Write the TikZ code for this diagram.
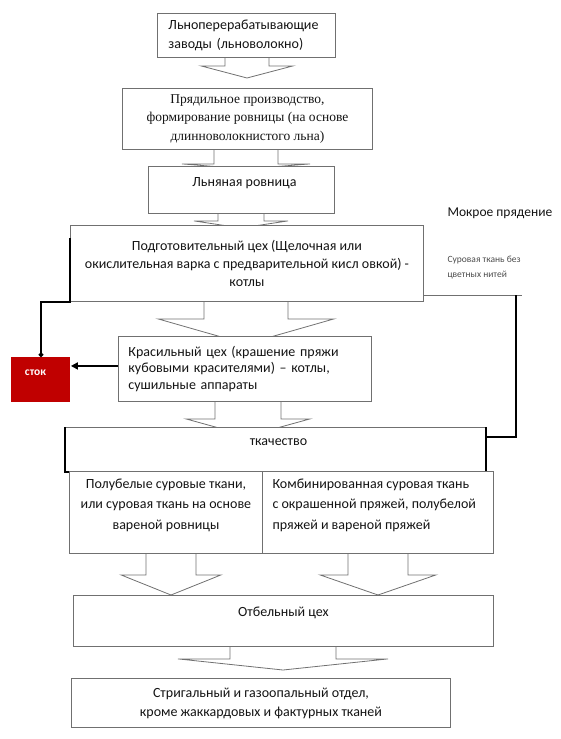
\documentclass[tikz,border=0pt]{standalone}
\usepackage{fontspec}
\setmainfont{Carlito}
\newfontfamily\serifru{Liberation Serif}
\usetikzlibrary{positioning,calc,arrows.meta,backgrounds}

\definecolor{boxgray}{HTML}{707070}
\definecolor{txtgray}{HTML}{141414}
\definecolor{stokred}{HTML}{C00000}

\tikzset{
  box/.style={draw=boxgray, line width=0.9pt, fill=white, anchor=north west, inner sep=0pt},
  txt/.style={font=\fontsize{14}{19}\selectfont, text=txtgray, align=center},
  flow/.style={draw=boxgray, line width=0.8pt},
  link/.style={line width=1.8pt, black},
}

% hollow block arrow: src, dst, x centre, stem length, stem half width, head half width, tip shift
\newcommand{\flowarrow}[7]{%
  \draw[flow] ($(#1.south -| #3,0)+(-#5,0)$) -- ++(0,#4) -- ++(#5-#6,0)
    -- ($(#2.north -| #3,0)+(0,#7)$) -- ($(#1.south -| #3,0)+(#6,#4)$)
    -- ++(#5-#6,0) -- ++(0,-#4);}

\begin{document}
\begin{tikzpicture}[x=1pt,y=-1pt]
\useasboundingbox (0,0) rectangle (561,739);

% boxes
\node[box, txt, minimum width=178pt, minimum height=44pt, text width=156pt, align=left] (plant) at (157,13)
  {Льноперерабатывающие\\заводы (льноволокно)};
\node[box, txt, minimum width=250pt, minimum height=61pt, font=\serifru\fontsize{13.5}{18.5}\selectfont] (spin) at (122,88)
  {Прядильное производство,\\формирование ровницы (на основе\\длинноволокнистого льна)};
\node[box, minimum width=186pt, minimum height=47pt] (roving) at (148,166) {};
\node[txt] (rovingtxt) at ($(roving.north)+(3,17)$) {Льняная ровница};
\node[box, txt, minimum width=353pt, minimum height=76pt, font=\fontsize{14}{18}\selectfont] (prep) at (70,225)
  {Подготовительный  цех (Щелочная или\\окислительная варка с предварительной кисл овкой) -\\котлы};
\node[box, txt, minimum width=253pt, minimum height=65pt, text width=233pt, align=left, font=\fontsize{14}{16.5}\selectfont] (dye) at (118,336)
  {Красильный цех (крашение пряжи\\кубовыми красителями) – котлы,\\сушильные аппараты};
\node[box, draw=none, fill=stokred, minimum width=59pt, minimum height=45pt] (stok) at (11,357) {};
\node[font=\bfseries\fontsize{11.5}{12}\selectfont, text=white] (stoktxt) at (35.5,373) {сток};
\node[box, minimum width=420pt, minimum height=44pt] (weave) at (65,427) {};
\draw[line width=1.5pt, black] (weave.north west) |- (weave.south east) -- (weave.north east);
\node[txt] (weavetxt) at ($(weave.north)+(3,15)$) {ткачество};
\node[box, minimum width=193pt, minimum height=82pt] (mixleft) at (69,471) {};
\node[box, minimum width=231pt, minimum height=82pt] (mixright) at (262,471) {};
\node[txt, font=\fontsize{14}{20.5}\selectfont] (mixlefttxt) at ($(mixleft.north)+(0,34)$)
  {Полубелые суровые ткани,\\или суровая ткань на основе\\вареной ровницы};
\node[txt, anchor=west, align=left, font=\fontsize{14}{20.5}\selectfont] (mixrighttxt) at ($(mixright.north west)+(7,34)$)
  {Комбинированная суровая ткань\\с окрашенной пряжей, полубелой\\пряжей и вареной пряжей};
\node[box, minimum width=420pt, minimum height=51pt] (bleach) at (73,595) {};
\node[txt] (bleachtxt) at ($(bleach.north)+(0,18)$) {Отбельный цех};
\node[box, txt, minimum width=379pt, minimum height=49pt, font=\fontsize{14}{19}\selectfont] (final) at (71,678)
  {Стригальный и газоопальный отдел,\\кроме жаккардовых и фактурных тканей};

% side notes
\node[anchor=west, font=\fontsize{13.5}{15}\selectfont, text=txtgray] (wet) at (444,213) {Мокрое прядение};
\node[anchor=north west, align=left, font=\fontsize{9.5}{15}\selectfont, text=black!70] (greige) at (444,252)
  {Суровая ткань без\\цветных нитей};

% block arrows
\begin{scope}[on background layer]
\flowarrow{plant}{spin}{247}{8}{22}{46}{-10}
\flowarrow{spin}{roving}{246}{14}{32}{64}{3}
\flowarrow{roving}{prep}{241}{7}{23}{47}{3}
\flowarrow{prep}{dye}{246}{17}{42}{88}{8}
\flowarrow{dye}{weave}{248}{17}{33}{62}{9}
\flowarrow{mixleft}{bleach}{171}{21}{25}{50}{0}
\flowarrow{mixright}{bleach}{378}{21}{30}{58}{0}
\flowarrow{bleach}{final}{283}{12}{53}{105}{-8}
\end{scope}

% drain and loop lines
\draw[link, -{Circle[length=4.5pt]}] ($(prep.north west)+(0,13)$) -- (prep.south west) -| (stok.north);
\draw[link, -{Triangle[length=7pt,width=7pt]}] ($(dye.west)+(0,-3)$) -- ($(dye.west -| stok.east)+(0,-3)$);
\coordinate (turn) at (516,295);
\draw[draw=boxgray, line width=1pt] (prep.east |- turn) -- ($(turn)+(6,0)$);
\draw[link] (turn) |- ($(weave.north east)+(0,10)$);

\end{tikzpicture}
\end{document}
